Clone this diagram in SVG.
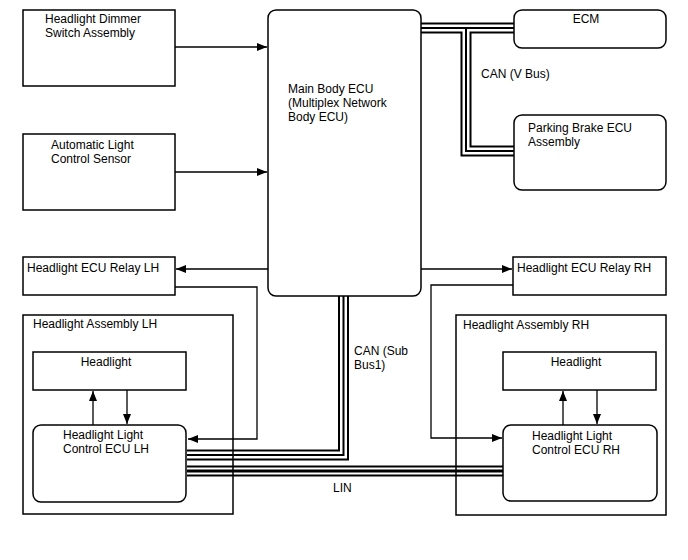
<svg xmlns="http://www.w3.org/2000/svg" width="688" height="560" viewBox="0 0 688 560">
<defs>
<marker id="ah" viewBox="0 0 10 8" refX="10" refY="4" markerWidth="10" markerHeight="8" markerUnits="userSpaceOnUse" orient="auto">
<path d="M0,0 L10,4 L0,8 Z" fill="#000"/>
</marker>
</defs>
<style>
.box{fill:#fff;stroke:#000;stroke-width:1.5}
.t{font-family:"Liberation Sans",Arial,sans-serif;font-size:12px;fill:#000}
.ln{fill:none;stroke:#000;stroke-width:1.3}
.b1{fill:none;stroke:#000;stroke-width:11}
.b2{fill:none;stroke:#fff;stroke-width:7}
.b3{fill:none;stroke:#000;stroke-width:2}
</style>
<rect width="688" height="560" fill="#fff"/>
<g id="connectors">
<path class="ln" d="M175,47 H267" marker-end="url(#ah)"/>
<path class="ln" d="M175,172 H267" marker-end="url(#ah)"/>
<path class="ln" d="M268,269 H176" marker-end="url(#ah)"/>
<path class="ln" d="M421,269 H512" marker-end="url(#ah)"/>
<path class="ln" d="M175,287 H257 V439 H188" marker-end="url(#ah)"/>
<path class="ln" d="M514,285 H431 V438 H502" marker-end="url(#ah)"/>
<path class="ln" d="M93,425 V391" marker-end="url(#ah)"/>
<path class="ln" d="M127,390 V424" marker-end="url(#ah)"/>
<path class="ln" d="M563,425 V391" marker-end="url(#ah)"/>
<path class="ln" d="M597,390 V424" marker-end="url(#ah)"/>
<g id="bus-v">
<path class="b1" d="M421,28 H514 M466,28 V151 H514"/>
<path class="b2" d="M421,28 H514 M466,28 V151 H514"/>
<path class="b3" d="M421,28 H514 M466,28 V151 H514"/>
</g>
<g id="bus-sub">
<path class="b1" d="M343.5,296 V455 H187"/>
<path class="b2" d="M343.5,296 V455 H187"/>
<path class="b3" d="M343.5,296 V455 H187"/>
</g>
<g id="bus-lin">
<path class="b1" d="M187,471 H504"/>
<path class="b2" d="M187,471 H504"/>
<path class="b3" d="M187,471 H504" style="stroke-width:3"/>
</g>
<text class="t" x="481" y="78">CAN (V Bus)</text>
<text class="t" x="354" y="355">CAN (Sub</text>
<text class="t" x="354" y="369">Bus1)</text>
<text class="t" x="333" y="492">LIN</text>
</g>
<g id="assembly-lh">
<rect class="box" x="23" y="315" width="210" height="199" style="fill:none"/>
<text class="t" x="33" y="328">Headlight Assembly LH</text>
</g>
<g id="assembly-rh">
<rect class="box" x="456" y="315" width="210" height="200" style="fill:none"/>
<text class="t" x="463" y="329">Headlight Assembly RH</text>
</g>
<g id="dimmer">
<rect class="box" x="23" y="10" width="152" height="76"/>
<text class="t" x="45" y="23">Headlight Dimmer</text>
<text class="t" x="45" y="37">Switch Assembly</text>
</g>
<g id="sensor">
<rect class="box" x="23" y="134" width="152" height="76"/>
<text class="t" x="51" y="149">Automatic Light</text>
<text class="t" x="51" y="163">Control Sensor</text>
</g>
<g id="main-ecu">
<rect class="box" x="268" y="10" width="153" height="286" rx="8"/>
<text class="t" x="288" y="93">Main Body ECU</text>
<text class="t" x="288" y="107">(Multiplex Network</text>
<text class="t" x="288" y="121">Body ECU)</text>
</g>
<g id="ecm">
<rect class="box" x="514" y="10" width="152" height="38" rx="8"/>
<text class="t" x="586" y="23" text-anchor="middle">ECM</text>
</g>
<g id="parking">
<rect class="box" x="514" y="115" width="152" height="75" rx="8"/>
<text class="t" x="528" y="132">Parking Brake ECU</text>
<text class="t" x="528" y="146">Assembly</text>
</g>
<g id="relay-lh">
<rect class="box" x="23" y="257" width="152" height="38"/>
<text class="t" x="27" y="272">Headlight ECU Relay LH</text>
</g>
<g id="relay-rh">
<rect class="box" x="513" y="257" width="153" height="38"/>
<text class="t" x="517" y="272">Headlight ECU Relay RH</text>
</g>
<g id="headlight-lh">
<rect class="box" x="33" y="352" width="153" height="38"/>
<text class="t" x="106" y="366" text-anchor="middle">Headlight</text>
</g>
<g id="ecu-lh">
<rect class="box" x="33" y="425" width="153" height="77" rx="8"/>
<text class="t" x="63" y="439">Headlight Light</text>
<text class="t" x="63" y="453">Control ECU LH</text>
</g>
<g id="headlight-rh">
<rect class="box" x="503" y="352" width="153" height="38"/>
<text class="t" x="576" y="366" text-anchor="middle">Headlight</text>
</g>
<g id="ecu-rh">
<rect class="box" x="503" y="425" width="154" height="76" rx="8"/>
<text class="t" x="532" y="440">Headlight Light</text>
<text class="t" x="532" y="454">Control ECU RH</text>
</g>
</svg>
